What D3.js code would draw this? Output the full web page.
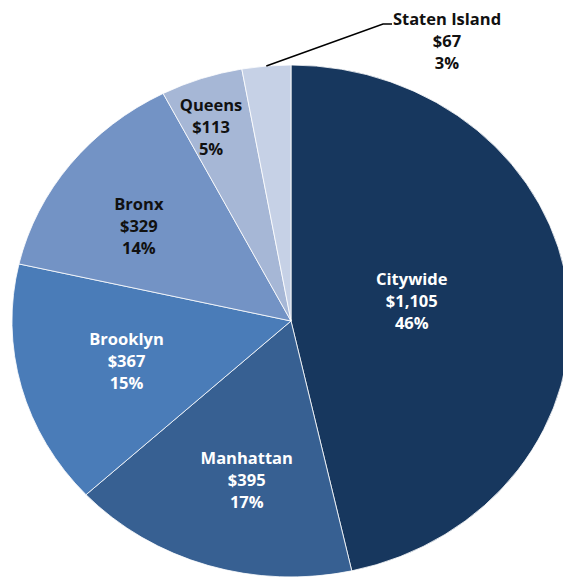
<!DOCTYPE html>
<html>
<head>
<meta charset="utf-8">
<title>Borough pie</title>
<style>
    body { margin: 0; background: #fff; }
    svg { display: block; }
    .lbl { font-family: "Open Sans", sans-serif; font-weight: bold; font-size: 16.5px; text-anchor: middle; }
</style>
<script src="https://d3js.org/d3.v7.min.js"></script>
</head>
<body>
<svg id="chart" width="563" height="581"></svg>
<script>
// data, clockwise from 12 o'clock
var boroughs = ["Citywide", "Manhattan", "Brooklyn", "Bronx", "Queens", "Staten Island"];
var amounts = [1105, 395, 367, 329, 113, 67];
var amountLabels = ["$1,105", "$395", "$367", "$329", "$113", "$67"];
var pctLabels = ["46%", "17%", "15%", "14%", "5%", "3%"];
var sliceColors = ["#17375e", "#376092", "#4a7cb8", "#7393c5", "#a6b7d6", "#c6d1e6"];
var textColors = ["#fff", "#fff", "#fff", "#111", "#111", "#111"];

// layout
var cx = 291, cy = 321, r = 256, sx = 1.09;
var lineH = 22;
// label placement: radius fraction and angle nudge (deg) per slice
var labelPlace = [
    { k: 0.44, da: -4 },
    { k: 0.64, da: -3 },
    { k: 0.61, da: 0 },
    { k: 0.66, da: -3.5 },
    { k: 0.81, da: -2 },
    null
];

var svg = d3.select("#chart");

var pie = d3.pie().sort(null).value(function(d) { return d; });
var arcs = pie(amounts);

var arc = d3.arc().innerRadius(0).outerRadius(r);

var g = svg.append("g")
    .attr("transform", "translate(" + cx + "," + cy + ") scale(" + sx + ",1)");

g.selectAll("path")
    .data(arcs)
    .enter()
    .append("path")
    .attr("d", arc)
    .attr("fill", function(d, i) { return sliceColors[i]; })
    .attr("stroke", "#fff")
    .attr("stroke-width", 1)
    .attr("stroke-opacity", 0.8)
    .attr("vector-effect", "non-scaling-stroke");

function toScreen(angle, rad) {
    return [cx + sx * rad * Math.sin(angle), cy - rad * Math.cos(angle)];
}

var labels = svg.append("g");

arcs.forEach(function(d, i) {
    var p = labelPlace[i];
    var pos;
    if (p) {
        var mid = (d.startAngle + d.endAngle) / 2 + p.da * Math.PI / 180;
        pos = toScreen(mid, p.k * r);
    } else {
        // outside label with leader line
        var midA = (d.startAngle + d.endAngle) / 2;
        var start = toScreen(midA, r);
        var elbow = [383, 24];
        svg.append("polyline")
            .attr("points", [start, elbow, [392, 24]].map(function(q) { return q.join(","); }).join(" "))
            .attr("fill", "none")
            .attr("stroke", "#000")
            .attr("stroke-width", 1.5);
        pos = [447, 41];
    }
    var t = labels.append("text")
        .attr("class", "lbl")
        .attr("fill", textColors[i])
        .attr("x", pos[0])
        .attr("y", pos[1] - lineH)
        .attr("dy", "0.35em");
    [boroughs[i], amountLabels[i], pctLabels[i]].forEach(function(s, j) {
        t.append("tspan")
            .attr("x", pos[0])
            .attr("dy", j == 0 ? "0.35em" : lineH)
            .text(s);
    });
});
</script>
</body>
</html>
